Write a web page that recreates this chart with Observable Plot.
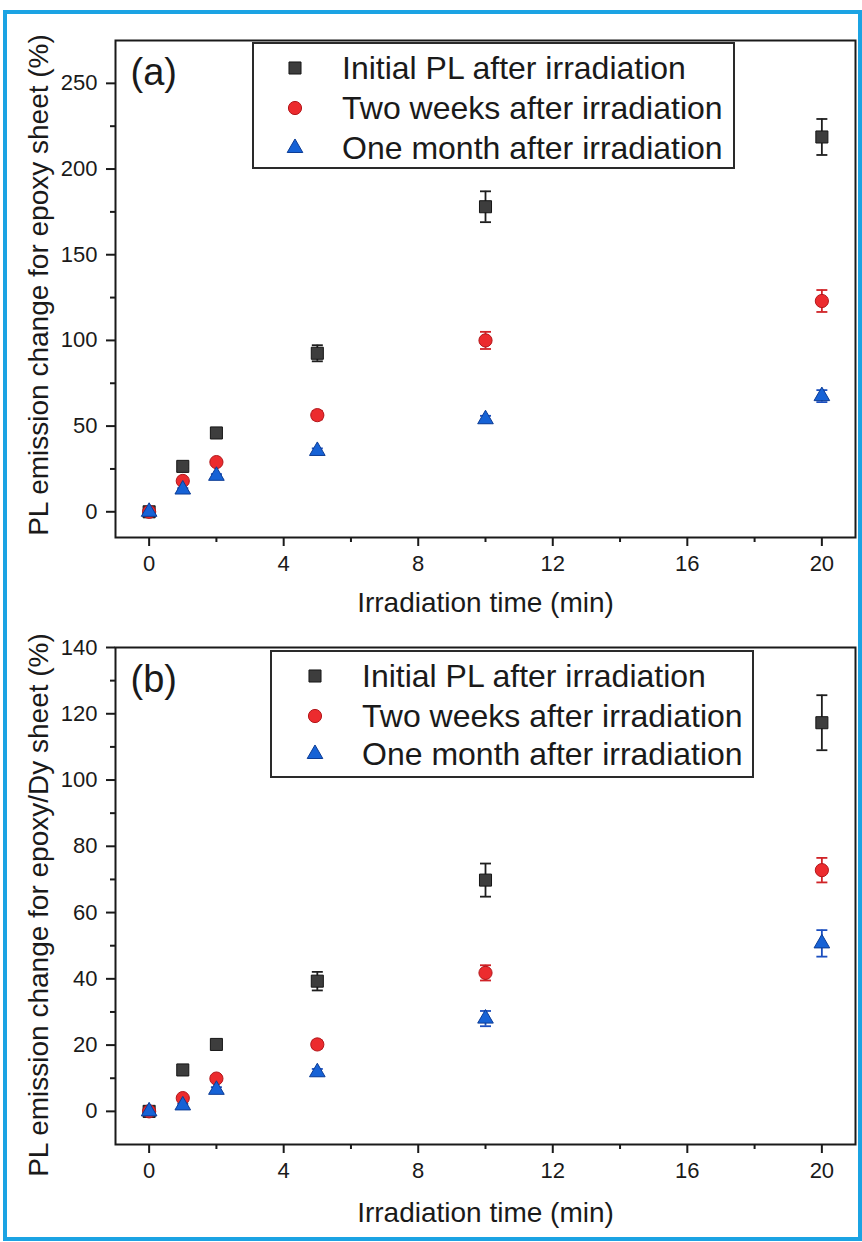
<!DOCTYPE html>
<html>
<head>
<meta charset="utf-8">
<script src="https://cdn.jsdelivr.net/npm/d3@7"></script>
<script src="https://cdn.jsdelivr.net/npm/@observablehq/plot@0.6"></script>
<style>
  html, body { margin: 0; padding: 0; background: #fff; }
  #root { position: relative; width: 862px; height: 1242px; overflow: hidden; background: #fff; font-family: "Liberation Sans", Arial, sans-serif; color: #1a1a1a; }
  .blueframe { position: absolute; left: 3px; top: 10px; width: 851px; height: 1223px; border: 4px solid #1ba3e3; }
  .panel { position: absolute; left: 0; }
  .legend { position: absolute; border: 2px solid #2a2a2a; background: #fff; box-sizing: border-box; }
  .legend .row { position: absolute; left: 0; height: 40px; line-height: 40px; font-size: 32px; white-space: nowrap; }
  .legend .row svg { position: absolute; top: 8px; }
  .legend .row span { position: absolute; top: 0; }
  .ylabel { position: absolute; white-space: nowrap; font-size: 28px; line-height: 1; transform: translate(-50%, -50%) rotate(-90deg); }
</style>
</head>
<body>
<div id="root">
  <div class="blueframe"></div>
  <div id="pa" class="panel" style="top:0px"></div>
  <div id="pb" class="panel" style="top:610px"></div>
</div>
<script>
// ---------- data ----------
const time = [0, 1, 2, 5, 10, 20];
const seriesNames = ["Initial PL after irradiation", "Two weeks after irradiation", "One month after irradiation"];

// panel (a): epoxy sheet
const initialA     = [0, 26.5, 46, 92.5, 178, 218.7];
const initialErrA  = [0.8, 1, 1.5, 4.7, 9, 10.5];
const twoWeeksA    = [0, 18, 29, 56.4, 100, 123];
const twoWeeksErrA = [0.5, 1, 1.2, 2.5, 5, 6.4];
const oneMonthA    = [0, 13, 21, 35.5, 54, 67.5];
const oneMonthErrA = [0.5, 0.8, 1, 1.5, 2, 3.5];

// panel (b): epoxy/Dy sheet
const initialB     = [0, 12.5, 20.2, 39.3, 69.8, 117.3];
const initialErrB  = [0.5, 0.8, 1, 2.8, 5, 8.3];
const twoWeeksB    = [0, 4, 9.9, 20.2, 41.8, 72.8];
const twoWeeksErrB = [0.5, 0.5, 0.8, 1.2, 2.3, 3.7];
const oneMonthB    = [0, 1.8, 6.5, 11.8, 28, 50.7];
const oneMonthErrB = [0.3, 0.5, 0.8, 1, 2.3, 4];

const xMajor = [0, 4, 8, 12, 16, 20];
const xMinor = [2, 6, 10, 14, 18];
const yMajorA = [0, 50, 100, 150, 200, 250];
const yMinorA = [25, 75, 125, 175, 225];
const yMajorB = [0, 20, 40, 60, 80, 100, 120, 140];
const yMinorB = [10, 30, 50, 70, 90, 110, 130];

const xLabel = "Irradiation time (min)";
const yLabelA = "PL emission change for epoxy sheet (%)";
const yLabelB = "PL emission change for epoxy/Dy sheet (%)";

// ---------- styles ----------
const styles = [
  {symbol: "square",   r: 6.8, fill: "#3d3d3d", stroke: "#161616", bar: "#1e1e1e"},
  {symbol: "circle",   r: 6.6, fill: "#ec2b2e", stroke: "#b3171b", bar: "#d02327"},
  {symbol: "triangle", r: 5.8, fill: "#1662d6", stroke: "#0c3c95", bar: "#1c4fbf"}
];
const cap = { draw(ctx, size) { const w = Math.sqrt(size); ctx.moveTo(-w, 0); ctx.lineTo(w, 0); } };

function rowsOf(values, errs) {
  return time.map((t, i) => ({time: t, value: values[i], err: errs[i]}));
}

function panel(el, opt) {
  const marks = [];
  opt.series.forEach((rows, k) => {
    const s = styles[k];
    marks.push(
      Plot.ruleX(rows, {x: "time", y1: d => d.value - d.err, y2: d => d.value + d.err, stroke: s.bar, strokeWidth: 1.8}),
      Plot.dot(rows, {x: "time", y: d => d.value + d.err, symbol: cap, r: 3.1, fill: "none", stroke: s.bar, strokeWidth: 1.8}),
      Plot.dot(rows, {x: "time", y: d => d.value - d.err, symbol: cap, r: 3.1, fill: "none", stroke: s.bar, strokeWidth: 1.8})
    );
  });
  opt.series.forEach((rows, k) => {
    const s = styles[k];
    marks.push(Plot.dot(rows, {x: "time", y: "value", symbol: s.symbol, r: s.r, fill: s.fill, stroke: s.stroke, strokeWidth: 1}));
  });
  marks.push(
    Plot.frame({stroke: "#1a1a1a", strokeWidth: 2}),
    Plot.axisX({ticks: xMajor, tickSize: 9, tickPadding: 9, tickFormat: d => d, strokeWidth: 2, fontSize: 22, label: null}),
    Plot.axisX({ticks: xMinor, tickSize: 5, tickFormat: () => "", strokeWidth: 2, label: null}),
    Plot.axisY({ticks: opt.yMajor, tickSize: 9, tickPadding: 9, tickFormat: d => d, strokeWidth: 2, fontSize: 22, label: null}),
    Plot.axisY({ticks: opt.yMinor, tickSize: 5, tickFormat: () => "", strokeWidth: 2, label: null}),
    Plot.text([opt.tag], {text: d => d, frameAnchor: "top-left", dx: 15, dy: 32, fontSize: 38, textAnchor: "start", lineAnchor: "middle"}),
    Plot.text([xLabel], {text: d => d, frameAnchor: "bottom", dx: 0, dy: opt.xLabelDy, fontSize: 28, lineAnchor: "middle"})
  );
  const svg = Plot.plot({
    width: 862,
    height: opt.height,
    marginLeft: 115,
    marginRight: 7,
    marginTop: opt.mt,
    marginBottom: opt.mb,
    x: {domain: [-1, 21]},
    y: {domain: opt.yDomain},
    style: {fontFamily: '"Liberation Sans", Arial, sans-serif', fontSize: "22px", color: "#1a1a1a", background: "transparent", overflow: "visible"},
    marks
  });
  el.appendChild(svg);
}

function yTitle(text, cx, cy) {
  const d = document.createElement("div");
  d.className = "ylabel";
  d.textContent = text;
  d.style.left = cx + "px";
  d.style.top = cy + "px";
  document.getElementById("root").appendChild(d);
}

function legend(left, top, width, height, symX, textX, rowTops) {
  const root = document.getElementById("root");
  const box = document.createElement("div");
  box.className = "legend";
  Object.assign(box.style, {left: left + "px", top: top + "px", width: width + "px", height: height + "px"});
  seriesNames.forEach((name, k) => {
    const s = styles[k];
    const row = document.createElement("div");
    row.className = "row";
    row.style.top = rowTops[k] + "px";
    const sym = d3.create("svg").attr("width", 24).attr("height", 24).style("left", (symX - 12) + "px");
    sym.append("path")
      .attr("transform", "translate(12,12)")
      .attr("d", d3.symbol(s.symbol === "square" ? d3.symbolSquare : s.symbol === "circle" ? d3.symbolCircle : d3.symbolTriangle, Math.PI * s.r * s.r)())
      .attr("fill", s.fill).attr("stroke", s.stroke).attr("stroke-width", 1);
    row.appendChild(sym.node());
    const t = document.createElement("span");
    t.textContent = name;
    t.style.left = textX + "px";
    row.appendChild(t);
    box.appendChild(row);
  });
  root.appendChild(box);
}

panel(document.getElementById("pa"), {
  height: 610, mt: 40, mb: 73,
  yDomain: [-15, 275], yMajor: yMajorA, yMinor: yMinorA,
  series: [rowsOf(initialA, initialErrA), rowsOf(twoWeeksA, twoWeeksErrA), rowsOf(oneMonthA, oneMonthErrA)],
  tag: "(a)", xLabelDy: 66
});
panel(document.getElementById("pb"), {
  height: 632, mt: 37, mb: 98,
  yDomain: [-10, 140], yMajor: yMajorB, yMinor: yMinorB,
  series: [rowsOf(initialB, initialErrB), rowsOf(twoWeeksB, twoWeeksErrB), rowsOf(oneMonthB, oneMonthErrB)],
  tag: "(b)", xLabelDy: 69
});

yTitle(yLabelA, 39, 285);
yTitle(yLabelB, 39, 905);

legend(252, 42, 483, 127, 41, 88, [4, 44, 84]);
legend(270, 650, 484, 128, 43, 90, [4, 44, 82]);
</script>
</body>
</html>
